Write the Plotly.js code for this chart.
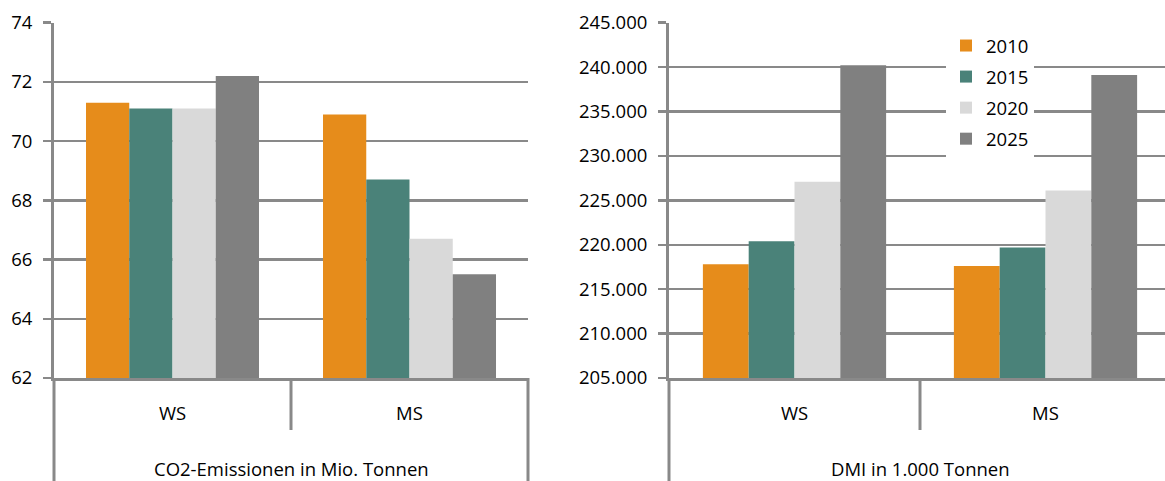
<!DOCTYPE html>
<html>
<head>
<meta charset="utf-8">
<script src="https://cdn.plot.ly/plotly-3.0.1.min.js"></script>
<style>
  html, body { margin: 0; padding: 0; background: #ffffff; }
  #chart { width: 1165px; height: 481px; }
</style>
</head>
<body>
<div id="chart"></div>
<script>
// Scenario categories and reporting years
const categories = ['WS', 'MS'];
const years = ['2010', '2015', '2020', '2025'];

// CO2 emissions in million tonnes
const co2_2010 = [71.3, 70.9];
const co2_2015 = [71.1, 68.7];
const co2_2020 = [71.1, 66.7];
const co2_2025 = [72.2, 65.5];

// Direct material input (DMI) in 1,000 tonnes
const dmi_2010 = [217800, 217600];
const dmi_2015 = [220400, 219700];
const dmi_2020 = [227100, 226100];
const dmi_2025 = [240200, 239100];

const co2Series = [co2_2010, co2_2015, co2_2020, co2_2025];
const dmiSeries = [dmi_2010, dmi_2015, dmi_2020, dmi_2025];
const yearColors = ['#E68C1B', '#4A8279', '#D9D9D9', '#808080'];

const lineGray = '#898989';
const textFont = { family: '"Open Sans", "Noto Sans", sans-serif', size: 18.5, color: '#000000' };

const traces = [];
years.forEach((yr, i) => {
  traces.push({
    type: 'bar', x: categories, y: co2Series[i], name: yr,
    xaxis: 'x', yaxis: 'y', legendgroup: yr, showlegend: false,
    marker: { color: yearColors[i] }, hoverinfo: 'x+y+name'
  });
  traces.push({
    type: 'bar', x: categories, y: dmiSeries[i], name: yr,
    xaxis: 'x2', yaxis: 'y2', legendgroup: yr, showlegend: true,
    marker: { color: yearColors[i] }, hoverinfo: 'x+y+name'
  });
});

// Plot area geometry in pixels of the 1165 x 481 page
const W = 1165, H = 481;
const plotTop = 22.7, plotBottom = 378;
const yDomain = [(H - plotBottom) / H, (H - plotTop) / H];
const sepBottom = (H - 430) / H;

const yAxisBase = {
  showgrid: true, gridcolor: lineGray, gridwidth: 2.5,
  showline: true, linecolor: lineGray, linewidth: 3,
  ticks: 'outside', ticklen: 8, tickwidth: 2.5, tickcolor: lineGray,
  ticklabelstandoff: 7,
  zeroline: false, tickfont: textFont, domain: yDomain, fixedrange: true
};
const xAxisBase = {
  type: 'category', showgrid: false, zeroline: false,
  showline: true, linecolor: lineGray, linewidth: 3,
  ticks: '', tickfont: textFont, ticklabelstandoff: 17, fixedrange: true
};

function vline(xref, x, y0, y1) {
  return { type: 'line', xref: xref, yref: 'paper', x0: x, x1: x, y0: y0, y1: y1,
           line: { color: lineGray, width: 3 }, layer: 'above' };
}

const layout = {
  width: W, height: H,
  margin: { l: 0, r: 0, t: 0, b: 0, pad: 0 },
  paper_bgcolor: '#ffffff', plot_bgcolor: '#ffffff',
  separators: ',.',
  barmode: 'group', bargap: 0.27, bargroupgap: 0,
  font: textFont,
  xaxis: Object.assign({}, xAxisBase, {
    domain: [54 / W, 528 / W], range: [-0.5, 1.5], anchor: 'y'
  }),
  yaxis: Object.assign({}, yAxisBase, {
    range: [62, 74], dtick: 2, tick0: 62, anchor: 'x'
  }),
  xaxis2: Object.assign({}, xAxisBase, {
    domain: [669 / W, 1], range: [-0.5, 1.5 - 6 / 251], anchor: 'y2'
  }),
  yaxis2: Object.assign({}, yAxisBase, {
    range: [205000, 245000], dtick: 5000, tick0: 205000, tickformat: ',d', anchor: 'x2'
  }),
  legend: {
    x: 946 / W, y: (H - 27) / H, xanchor: 'left', yanchor: 'top',
    bgcolor: '#ffffff', borderwidth: 0, font: textFont,
    traceorder: 'grouped', tracegroupgap: 4, itemclick: false, itemdoubleclick: false
  },
  shapes: [
    vline('x domain', 0, 0, yDomain[0]),
    vline('x', 0.5, sepBottom, yDomain[0]),
    vline('x domain', 1, 0, yDomain[0]),
    vline('x2 domain', 0, 0, yDomain[0]),
    vline('x2', 0.5, sepBottom, yDomain[0])
  ],
  annotations: [
    { xref: 'x', yref: 'paper', x: 0.5, y: (H - 468) / H, yanchor: 'middle', xanchor: 'center',
      text: 'CO2-Emissionen in Mio. Tonnen', showarrow: false, font: textFont },
    { xref: 'x2', yref: 'paper', x: 0.5, y: (H - 468) / H, yanchor: 'middle', xanchor: 'center',
      text: 'DMI in 1.000 Tonnen', showarrow: false, font: textFont }
  ],
  showlegend: true
};

Plotly.newPlot('chart', traces, layout, { displayModeBar: false, staticPlot: true });
</script>
</body>
</html>
